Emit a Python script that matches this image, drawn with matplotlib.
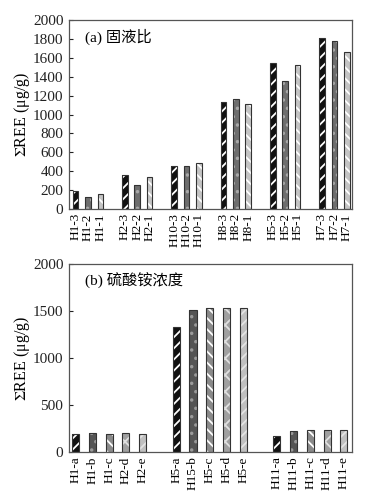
import matplotlib
matplotlib.use("Agg")
import matplotlib.pyplot as plt
import numpy as np

plt.rcParams['font.family'] = ['Liberation Serif', 'Noto Sans CJK SC', 'DejaVu Sans']
plt.rcParams['hatch.linewidth'] = 1.3
plt.rcParams['mathtext.fontset'] = 'stix'

# Panel (a)
labels_a = ["H1-3", "H1-2", "H1-1", "H2-3", "H2-2", "H2-1", "H10-3", "H10-2", "H10-1",
            "H8-3", "H8-2", "H8-1", "H5-3", "H5-2", "H5-1", "H7-3", "H7-2", "H7-1"]
values_a = [194, 127, 159, 360, 250, 339, 455, 455, 483,
            1129, 1160, 1108, 1541, 1354, 1527, 1813, 1774, 1661]
group_size_a = 3

# Panel (b)
labels_b = ["H1-a", "H1-b", "H1-c", "H2-d", "H2-e",
            "H5-a", "H15-b", "H5-c", "H5-d", "H5-e",
            "H11-a", "H11-b", "H11-c", "H11-d", "H11-e"]
values_b = [195, 205, 188, 205, 195,
            1335, 1508, 1536, 1536, 1529,
            173, 219, 234, 230, 234]
group_size_b = 5

style_a = [("#111111", "white", "///"), ("#6e6e6e", "#a8a8a8", ".."), ("#c4c4c4", "white", "\\\\\\")]
style_b = [("#111111", "white", "///"), ("#555555", "#9a9a9a", ".."), ("#8a8a8a", "white", "\\\\\\"),
           ("#a0a0a0", "#e0e0e0", "xx"), ("#c0c0c0", "#e4e4e4", "///")]

fig = plt.figure(figsize=(3.66, 4.99), dpi=100)
ax1 = fig.add_axes([0.1885, 0.581, 0.773, 0.379])
ax2 = fig.add_axes([0.1885, 0.094, 0.773, 0.377])


def draw(ax, labels, values, gsize, gap, styles, width):
    n = len(values)
    pos = np.array([i + (i // gsize) * gap for i in range(n)], dtype=float)
    for i in range(n):
        fc, hc, h = styles[i % gsize]
        ax.bar(pos[i], values[i], width=width, color=fc, edgecolor=hc, hatch=h, linewidth=0)
        ax.bar(pos[i], values[i], width=width, fill=False, edgecolor="#333333", linewidth=0.8)
    ax.set_xticks(pos)
    ax.set_xticklabels(labels, rotation=90, fontsize=9.5)
    ax.tick_params(axis='x', length=0, pad=3)
    ax.tick_params(axis='y', direction='in', length=3, labelsize=11, colors='#222222', pad=4)
    for s in ax.spines.values():
        s.set_color('#555555')
        s.set_linewidth(0.9)
    ax.set_ylabel(r"$\Sigma$REE (μg/g)", fontsize=11.5, labelpad=1)
    return pos


p1 = draw(ax1, labels_a, values_a, group_size_a, 1, style_a, 0.45)
ax1.set_xlim(-0.54, p1[-1] + 0.42)
ax1.set_ylim(0, 2000)
ax1.set_yticks(np.arange(0, 2001, 200))
ax1.text(0.055, 0.91, "(a) 固液比", transform=ax1.transAxes, fontsize=11, va='center')

p2 = draw(ax2, labels_b, values_b, group_size_b, 1, style_b, 0.42)
ax2.set_xlim(-0.4, p2[-1] + 0.48)
ax2.set_ylim(0, 2000)
ax2.set_yticks(np.arange(0, 2001, 500))
ax2.text(0.055, 0.91, "(b) 硫酸铵浓度", transform=ax2.transAxes, fontsize=11, va='center')

fig.savefig("out.png", dpi=100, facecolor='white')
